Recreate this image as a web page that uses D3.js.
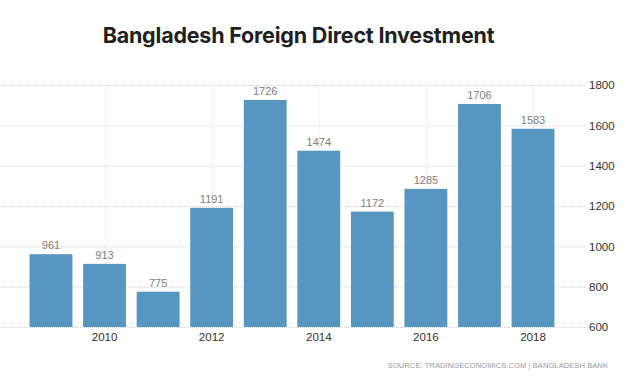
<!DOCTYPE html>
<html><head><meta charset="utf-8">
<script src="https://cdn.jsdelivr.net/npm/d3@7"></script>
<style>body{margin:0;background:#fff}svg{display:block}</style>
</head><body>
<script>
const years = [2009,2010,2011,2012,2013,2014,2015,2016,2017,2018];
const fdi = [961,913,775,1191,1726,1474,1172,1285,1706,1583];
const yTicks = [600,800,1000,1200,1400,1600,1800];
const xTickYears = [2010,2012,2014,2016,2018];
const title = "Bangladesh Foreign Direct Investment";
const source = "SOURCE: TRADINGECONOMICS.COM  |  BANGLADESH BANK";

const W=624,H=381;
const svg=d3.select("body").append("svg").attr("width",W).attr("height",H);
const x=d3.scaleBand().domain(years).range([24.2,559.8]).paddingInner(0.2).paddingOuter(0.1);
const y=d3.scaleLinear().domain([600,1800]).range([327,85]);

// horizontal grid
svg.append("g").selectAll("line").data(yTicks).join("line")
  .attr("x1",0).attr("x2",586).attr("y1",d=>y(d)+0.5).attr("y2",d=>y(d)+0.5)
  .attr("stroke","#d4d4d4").attr("stroke-dasharray","1,1");
// vertical grid
svg.append("g").selectAll("line").data(xTickYears).join("line")
  .attr("x1",d=>Math.round(x(d)+x.bandwidth()/2)+0.5).attr("x2",d=>Math.round(x(d)+x.bandwidth()/2)+0.5)
  .attr("y1",85).attr("y2",327)
  .attr("stroke","#e2e2e2").attr("stroke-dasharray","1,1");

svg.append("g").selectAll("rect").data(years).join("rect")
  .attr("x",(d)=>x(d)).attr("width",x.bandwidth())
  .attr("y",(d,i)=>y(fdi[i])).attr("height",(d,i)=>y(600)-y(fdi[i]))
  .attr("fill","#5896c2");

svg.append("g").selectAll("text").data(years).join("text")
  .attr("x",d=>x(d)+x.bandwidth()/2).attr("y",(d,i)=>y(fdi[i])-5)
  .attr("text-anchor","middle").attr("font-family","Liberation Sans, Arial, sans-serif")
  .attr("font-size",11).attr("fill","#808080").text((d,i)=>fdi[i]);

// y axis right
const ya=d3.axisRight(y).tickValues(yTicks).tickFormat(d3.format("d")).tickSize(0).tickPadding(0);
const gy=svg.append("g").attr("transform","translate(589,0)").call(ya);
gy.select(".domain").remove();
gy.selectAll("text").attr("font-family","Liberation Sans, Arial, sans-serif").attr("font-size",11.5).attr("fill","#333");

// x axis
const xa=d3.axisBottom(x).tickValues(xTickYears).tickSize(0).tickPadding(0);
const gx=svg.append("g").attr("transform","translate(0,333)").call(xa);
gx.select(".domain").remove();
gx.selectAll("text").attr("font-family","Liberation Sans, Arial, sans-serif").attr("font-size",11.5).attr("fill","#333");

svg.append("text").attr("x",298.5).attr("y",43).attr("text-anchor","middle")
  .attr("font-family","Inter, sans-serif").attr("font-weight",700).attr("font-size",21.5)
  .attr("letter-spacing",-0.2).attr("fill","#1f1f1f").text(title);

svg.append("text").attr("x",608).attr("y",368).attr("text-anchor","end")
  .attr("font-family","Liberation Sans, Arial, sans-serif").attr("font-size",7.5)
  .attr("letter-spacing",0.1).attr("fill","#9a9a9a").text(source);
</script>
</body></html>
